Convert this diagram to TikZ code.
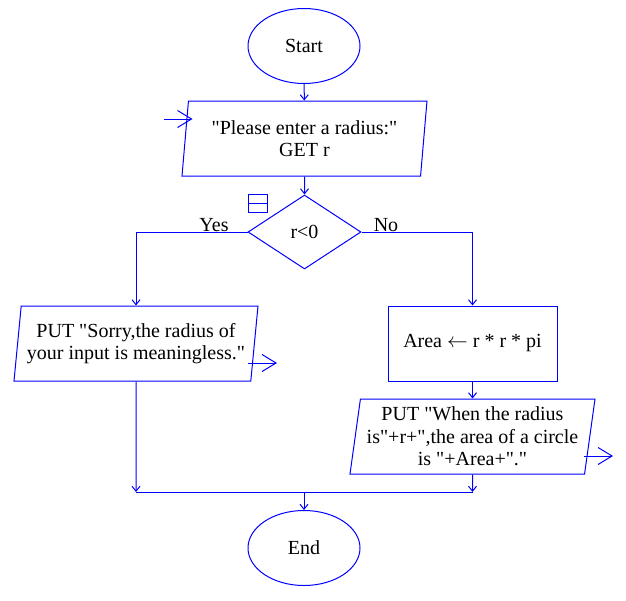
\documentclass[tikz,border=0pt]{standalone}
\usepackage{fontspec}
\setmainfont{Liberation Serif}[Ligatures=TeXOff]
\usetikzlibrary{shapes.geometric,arrows.meta}
\begin{document}
\begin{tikzpicture}[x=1pt,y=-1pt,
  every node/.style={font=\fontsize{20}{22.5}\selectfont, text=black},
  shp/.style={draw=blue, line width=1pt, inner sep=0pt, align=center},
  term/.style={shp, ellipse, minimum width=112, minimum height=75},
  io/.style={shp, trapezium, trapezium left angle=80, trapezium right angle=100,
    trapezium stretches body, minimum height=75},
  proc/.style={shp, rectangle, minimum width=169, minimum height=75},
  dec/.style={shp, diamond, minimum width=113, minimum height=74},
  conn/.style={draw=blue, line width=1pt, -{Straight Barb[length=5pt,width=8pt]}},
  bigconn/.style={draw=blue, line width=1pt, -{Straight Barb[length=14pt,width=17pt]}},
  line/.style={draw=blue, line width=1pt},
  lbl/.style={anchor=base, inner sep=0pt}]
\useasboundingbox (0,0) rectangle (626,600);

\node[term] (start) at (304,46) {Start};
\node[io, minimum width=245] (input) at (304.5,138.5) {"Please enter a radius:"\\GET r};
\node[dec] (dec) at (304.5,232) {r<0};
\node[draw=blue, line width=1pt, minimum width=19, minimum height=18, inner sep=0pt] (icon) at (257.5,203) {};
\node[io, minimum width=244] (sorry) at (136,343.5) {PUT "Sorry,the radius of\\your input is meaningless."};
\node[proc] (area) at (472.5,343.5) {Area $\leftarrow$ r * r * pi};
\node[io, minimum width=245] (out) at (472.5,436.5) {PUT "When the radius\\is"+r+",the area of a circle\\is "+Area+"."};
\node[term] (end) at (304,548) {End};

\node[lbl] (yes) at (214,231) {Yes};
\node[lbl] (no) at (386,231) {No};

\coordinate (entryS) at (164,119);
\coordinate (entryT) at (192.5,119);
\coordinate (sorryS) at (248,363);
\coordinate (sorryT) at (277,363);
\coordinate (outS) at (584,456);
\coordinate (outT) at (613,456);
\coordinate (mL) at (136,492);
\coordinate (mR) at (472.5,492);
\coordinate (mC) at (304,492);

\draw[line] (icon.west) -- (icon.east);

\draw[conn] (start) -- (input);
\draw[bigconn] (entryS) -- (entryT);
\draw[conn] (input) -- (dec);
\draw[conn] (dec.west) -| (sorry.north);
\draw[conn] (dec.east) -| (area.north);
\draw[conn] (area) -- (out);
\draw[bigconn] (sorryS) -- (sorryT);
\draw[bigconn] (outS) -- (outT);
\draw[conn] (sorry.south) -- (mL);
\draw[conn] (out.south) -- (mR);
\draw[line] (mL) -- (mR);
\draw[conn] (mC) -- (end);
\end{tikzpicture}
\end{document}
